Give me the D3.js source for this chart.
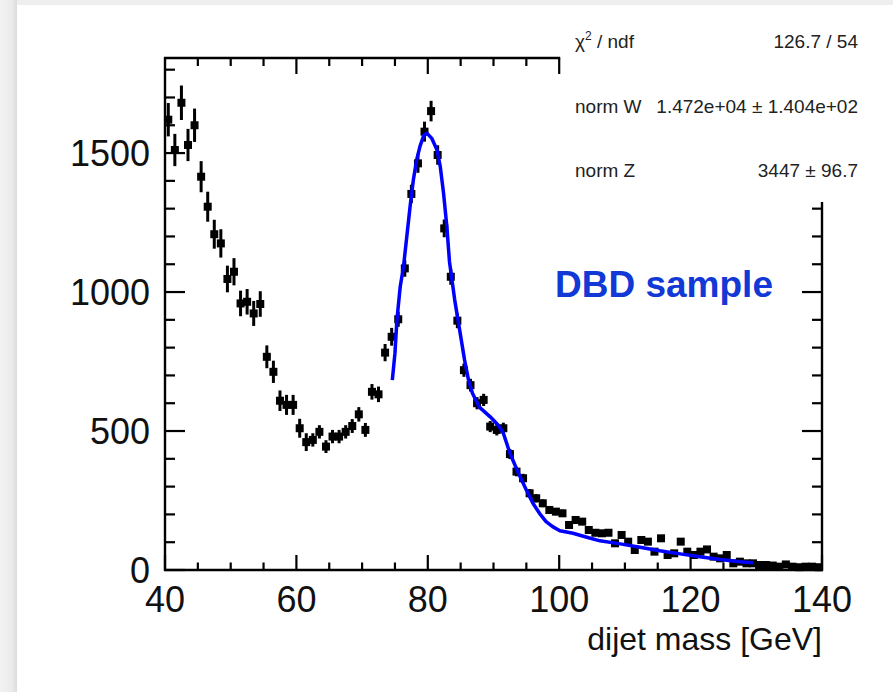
<!DOCTYPE html>
<html>
<head>
<meta charset="utf-8">
<script src="https://cdn.jsdelivr.net/npm/d3@7"></script>
<style>
  html, body { margin: 0; padding: 0; background: #ffffff; }
  svg { display: block; }
</style>
</head>
<body>
<svg id="chart" width="893" height="692"></svg>
<script>
// ---------------- data ----------------
const binLow = 40, binWidth = 1;            // histogram bins 40..140 GeV, 1 GeV wide
const counts = [
  1620,1511,1681,1529,1600,1415,1307,1208,1175,1047,
  1073,959,965,923,957,767,713,609,594,594,
  510,460,468,497,444,480,480,497,518,560,
  504,641,632,782,839,902,1085,1353,1463,1577,
  1651,1493,1229,1055,897,719,665,600,612,516,
  504,510,417,354,330,276,258,240,216,210,
  204,162,180,174,144,134,132,134,96,126,
  102,72,108,102,66,114,54,60,102,66,
  54,66,74,48,42,54,24,30,24,24,
  18,18,16,12,20,12,10,12,12,10
];
const errors = [
  60,58,62,58,60,56,54,52,51,48,
  49,46,46,45,46,41,40,37,36,36,
  34,32,24,24,23,24,24,24,25,26,
  25,28,28,31,32,27,30,33,34,36,
  37,35,32,29,27,24,23,22,22,20,
  20,20,18,17,16,15,15,14,14,13,
  13,13,12,12,12,11,11,11,9,10,
  9,8,9,9,8,10,7,7,9,8,
  7,8,8,7,6,7,5,5,5,5,
  4,4,4,3,4,3,3,3,3,3
];
const fitMass = [74.6,75.0,75.3,75.8,76.3,76.8,77.3,77.8,78.3,78.8,
  79.4,79.9,80.6,81.4,81.9,82.4,82.9,83.3,84.1,84.6,
  85.1,85.6,86.2,86.8,87.8,89.5,90.7,91.5,92.5,93.8,
  95.0,96.0,97.0,98.0,99.0,100.1,102.1,104.2,106.2,109.3,
  112.3,115.3,118.4,121.4,124.5,127.5,129.5];
const fitValue = [683,780,900,1019,1091,1199,1307,1403,1475,1523,
  1565,1571,1553,1511,1451,1355,1235,1109,971,899,
  827,755,683,636,587,551,522,492,420,348,
  288,240,204,174,156,141,132,118,105,94,
  82,69,58,48,38,30,26];
const xTickLabels = [40, 60, 80, 100, 120, 140];
const yTickLabels = [0, 500, 1000, 1500];
const statNames = ["χ2 / ndf", "norm W", "norm Z"];
const statValues = ["126.7 / 54", "1.472e+04 \u00b1 1.404e+02", "3447 \u00b1 96.7"];
const xTitle = "dijet mass [GeV]";
const sampleLabel = "DBD sample";

// ---------------- layout ----------------
(function () {
const svg = d3.select("#chart");
const W = 893, H = 692;
const pL = 165, pR = 822, pT = 58, pB = 570;
const rightAxisTop = 202, topAxisEnd = 100;

const x = d3.scaleLinear().domain([40, 140]).range([pL, pR]);
const y = d3.scaleLinear().domain([0, 1842]).range([pB, pT]);

// background frame (gray border with left shadow)
const defs = svg.append("defs");
const grad = defs.append("linearGradient").attr("id", "shadow").attr("x1", 0).attr("x2", 1).attr("y1", 0).attr("y2", 0);
grad.append("stop").attr("offset", "0%").attr("stop-color", "#f2f2f2");
grad.append("stop").attr("offset", "70%").attr("stop-color", "#ebebeb");
grad.append("stop").attr("offset", "100%").attr("stop-color", "#dcdcdc");
svg.append("rect").attr("x", 0).attr("y", 0).attr("width", W).attr("height", H).attr("fill", "#eeeeee");
svg.append("rect").attr("x", 0).attr("y", 0).attr("width", 17).attr("height", H).attr("fill", "url(#shadow)");
svg.append("rect").attr("x", 17).attr("y", 5).attr("width", W - 17).attr("height", H - 5).attr("fill", "#ffffff");

const font = "'Liberation Sans', Arial, Helvetica, sans-serif";
const g = svg.append("g");

// ---------------- axes ----------------
const xMinor = d3.range(40, 140.01, 5);
const isMajorX = v => Math.abs(v % 20) < 1e-6;
// bottom axis
g.append("line").attr("x1", pL - 1).attr("x2", pR + 1).attr("y1", pB).attr("y2", pB)
  .attr("stroke", "#000").attr("stroke-width", 2.4);
g.selectAll(".xtick").data(xMinor).join("line")
  .attr("x1", d => x(d)).attr("x2", d => x(d))
  .attr("y1", pB).attr("y2", d => pB - (isMajorX(d) ? 15 : 7.5))
  .attr("stroke", "#000").attr("stroke-width", 2.2);
g.selectAll(".xlab").data(xTickLabels).join("text")
  .attr("x", d => x(d)).attr("y", 612)
  .attr("text-anchor", "middle")
  .attr("font-family", font).attr("font-size", 36).attr("fill", "#111")
  .text(d => d);

// top axis (partial, stops where stats box starts)
const xTopTicks = xMinor.filter(v => v > 40 && v <= topAxisEnd);
g.append("line").attr("x1", pL - 1).attr("x2", x(topAxisEnd) + 1).attr("y1", pT).attr("y2", pT)
  .attr("stroke", "#000").attr("stroke-width", 2.4);
g.selectAll(".xttick").data(xTopTicks).join("line")
  .attr("x1", d => x(d)).attr("x2", d => x(d))
  .attr("y1", pT).attr("y2", d => pT + (isMajorX(d) ? 16 : 8))
  .attr("stroke", "#000").attr("stroke-width", 2.2);

// left axis
const yMinor = d3.range(0, 1801, 100);
const isMajorY = v => v % 500 === 0;
g.append("line").attr("x1", pL).attr("x2", pL).attr("y1", pT - 1).attr("y2", pB + 1)
  .attr("stroke", "#000").attr("stroke-width", 2.4);
g.selectAll(".ytick").data(yMinor).join("line")
  .attr("x1", pL).attr("x2", d => pL + (isMajorY(d) ? 20 : 10))
  .attr("y1", d => y(d)).attr("y2", d => y(d))
  .attr("stroke", "#000").attr("stroke-width", 2.2);
g.selectAll(".ylab").data(yTickLabels).join("text")
  .attr("x", 150).attr("y", d => y(d) + 12.5)
  .attr("text-anchor", "end")
  .attr("font-family", font).attr("font-size", 36).attr("fill", "#111")
  .text(d => d);

// right axis (partial, starts below stats box)
const yRightTicks = yMinor.filter(v => y(v) >= rightAxisTop);
g.append("line").attr("x1", pR).attr("x2", pR).attr("y1", rightAxisTop).attr("y2", pB + 1)
  .attr("stroke", "#000").attr("stroke-width", 2.4);
g.selectAll(".yrtick").data(yRightTicks).join("line")
  .attr("x1", pR).attr("x2", d => pR - (isMajorY(d) ? 20 : 10))
  .attr("y1", d => y(d)).attr("y2", d => y(d))
  .attr("stroke", "#000").attr("stroke-width", 2.2);

// axis title
g.append("text").attr("x", pR).attr("y", 650)
  .attr("text-anchor", "end")
  .attr("font-family", font).attr("font-size", 32).attr("fill", "#111")
  .text(xTitle);

// ---------------- data points ----------------
const pts = counts.map((v, i) => ({ m: binLow + (i + 0.5) * binWidth, v, e: errors[i] }));
const pg = g.append("g");
pg.selectAll(".ex").data(pts).join("line")
  .attr("x1", d => x(d.m - binWidth / 2)).attr("x2", d => x(d.m + binWidth / 2))
  .attr("y1", d => y(d.v)).attr("y2", d => y(d.v))
  .attr("stroke", "#000").attr("stroke-width", 3);
pg.selectAll(".ey").data(pts).join("line")
  .attr("x1", d => x(d.m)).attr("x2", d => x(d.m))
  .attr("y1", d => y(d.v - d.e)).attr("y2", d => y(d.v + d.e))
  .attr("stroke", "#000").attr("stroke-width", 3);
pg.selectAll(".mk").data(pts).join("rect")
  .attr("x", d => x(d.m) - 4).attr("y", d => y(d.v) - 4)
  .attr("width", 8).attr("height", 8).attr("fill", "#000");

// ---------------- fit curve ----------------
const fit = fitMass.map((m, i) => [m, fitValue[i]]);
g.append("path").datum(fit)
  .attr("d", d3.line().x(d => x(d[0])).y(d => y(d[1])))
  .attr("fill", "none").attr("stroke", "#0000ff").attr("stroke-width", 3.5)
  .attr("stroke-linejoin", "round");

// ---------------- label ----------------
g.append("text").attr("x", 555).attr("y", 297)
  .attr("font-family", font).attr("font-size", 37).attr("font-weight", "bold")
  .attr("fill", "#1238d6")
  .text(sampleLabel);

// ---------------- stats box ----------------
const statY = [48, 113, 177];
statNames.forEach((n, i) => {
  const t = g.append("text").attr("x", 575).attr("y", statY[i])
    .attr("font-family", font).attr("font-size", 19).attr("fill", "#222");
  if (n.startsWith("χ2")) {
    t.append("tspan").text("χ");
    t.append("tspan").attr("font-size", 12).attr("dy", -8).text("2");
    t.append("tspan").attr("dy", 8).text(" / ndf");
  } else {
    t.text(n);
  }
  g.append("text").attr("x", 858).attr("y", statY[i])
    .attr("text-anchor", "end")
    .attr("font-family", font).attr("font-size", 19).attr("fill", "#222")
    .text(statValues[i]);
});
})();
</script>
</body>
</html>
